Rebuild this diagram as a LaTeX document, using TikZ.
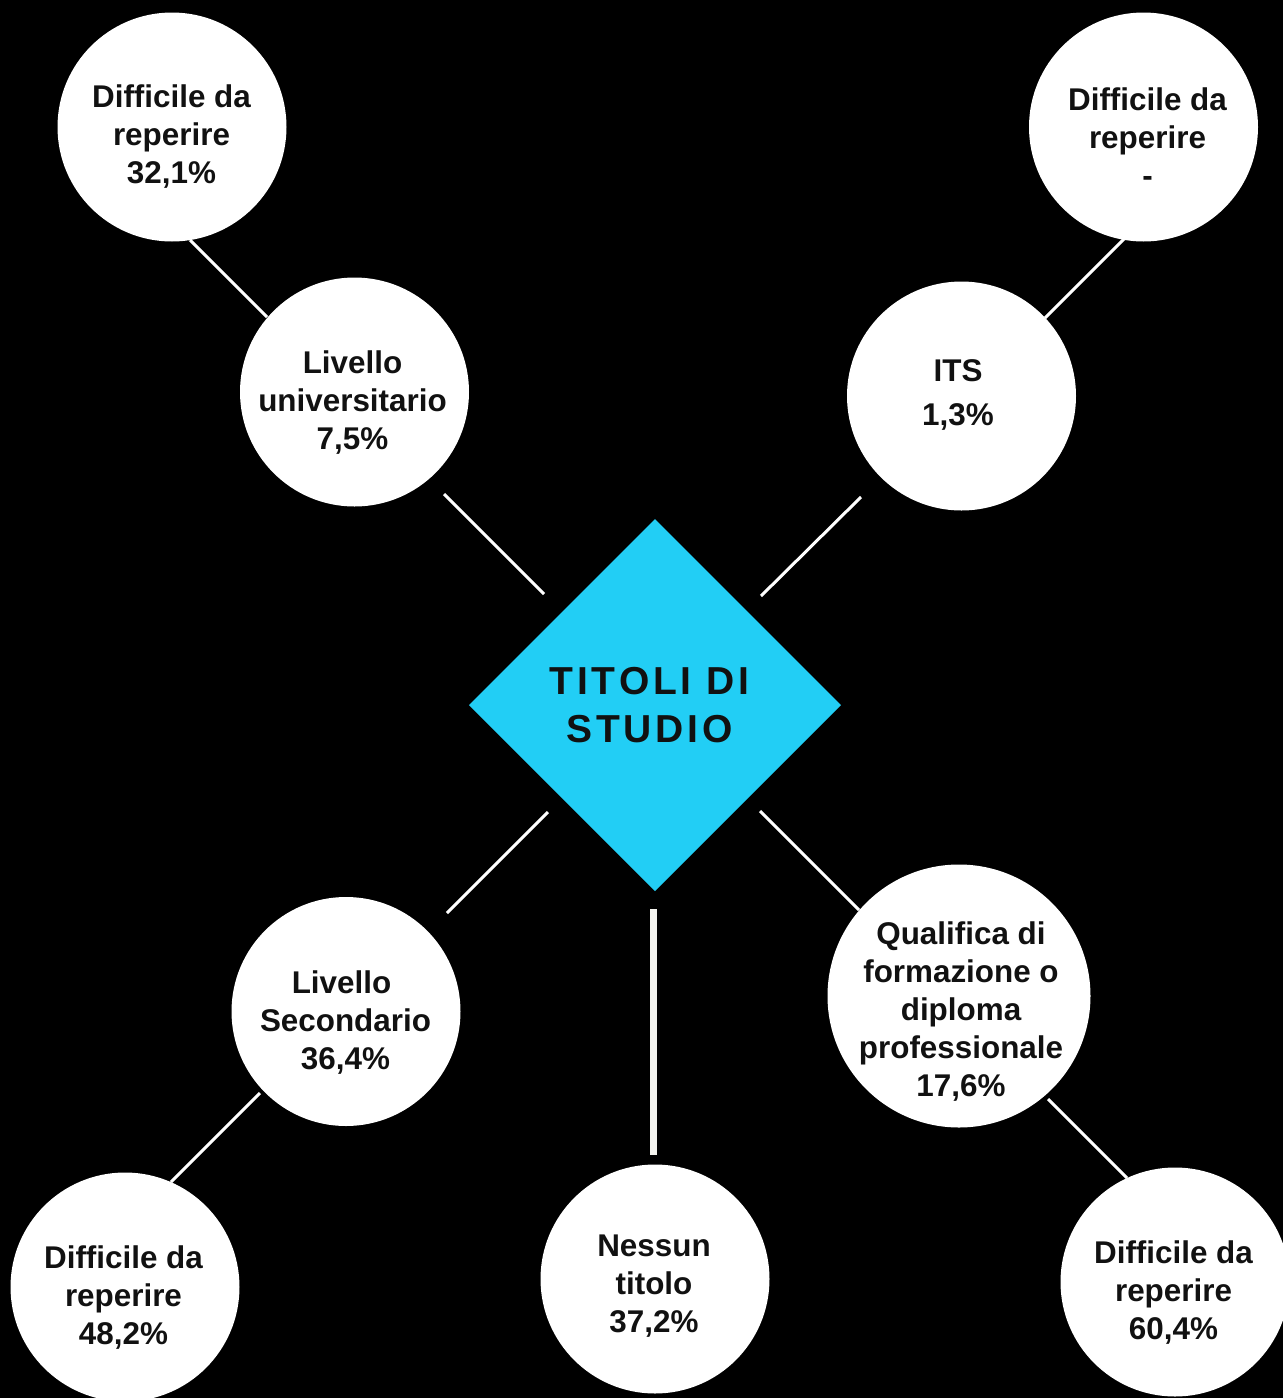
\documentclass[tikz,border=0pt]{standalone}
\usepackage{fontspec}
\setmainfont{Liberation Sans}
\newfontfamily\titlefont[LetterSpace=10]{Liberation Sans}
\usetikzlibrary{shapes.geometric}
\definecolor{cyanbox}{HTML}{22CEF5}
\definecolor{inktext}{HTML}{111111}
\definecolor{offwhite}{HTML}{F4F4EF}
\tikzset{
  bubble/.style={circle, fill=white, draw=none, inner sep=0pt, outer sep=0pt, minimum size=229pt},
  bigbubble/.style={bubble, minimum size=263pt},
  bubbletext/.style={align=center, inner sep=0pt, text=inktext,
    font=\fontsize{31.4}{38}\selectfont\bfseries},
  conn/.style={white, line width=3pt},
  thickconn/.style={offwhite, line width=7pt},
}
\begin{document}
\begin{tikzpicture}[x=1pt,y=-1pt]
\fill[black] (0,0) rectangle (1283,1398);
\useasboundingbox (0,0) rectangle (1283,1398);

% center diamond
\node[diamond, fill=cyanbox, inner sep=0pt, outer sep=0pt, minimum width=372pt, minimum height=372pt] (d) at (655,705) {};
\node[align=center, inner sep=0pt, text=inktext, font=\titlefont\fontsize{39}{48}\selectfont\bfseries] (dt) at (649.5,705) {TITOLI DI\\STUDIO};

% circles
\node[bubble] (c1) at (172,127) {};
\node[bubble] (c2) at (354.5,392) {};
\node[bubble] (c3) at (961.5,396) {};
\node[bubble] (c4) at (1143.5,127) {};
\node[bubble] (c5) at (346,1011.5) {};
\node[bubble] (c6) at (655,1279) {};
\node[bigbubble] (c7) at (959,996) {};
\node[bubble] (c8) at (125,1287) {};
\node[bubble] (c9) at (1175,1282) {};

% texts
\node[bubbletext] (t1) at (171.5,137) {Difficile da\\reperire\\32,1\%};
\node[bubbletext] (t2) at (352.5,402.5) {Livello\\universitario\\7,5\%};
\node[bubbletext, font=\fontsize{31.4}{44}\selectfont\bfseries] (t3) at (958,395) {ITS\\1,3\%};
\node[bubbletext] (t4) at (1147.5,137) {Difficile da\\reperire\\-};
\node[bubbletext] (t5) at (345.5,1023) {Livello\kern8pt\\Secondario\\36,4\%};
\node[bubbletext] (t6) at (654,1286) {Nessun\\titolo\\37,2\%};
\node[bubbletext] (t7) at (961,1012) {Qualifica di\\formazione o\\diploma\\professionale\\17,6\%};
\node[bubbletext] (t8) at (123.5,1298) {Difficile da\\reperire\\48,2\%};
\node[bubbletext] (t9) at (1173.5,1293) {Difficile da\\reperire\\60,4\%};

% connector end points
\coordinate (a1) at (190,240);   \coordinate (b1) at (267,317);
\coordinate (a2) at (444,494);   \coordinate (b2) at (544,594);
\coordinate (a3) at (861,497);   \coordinate (b3) at (761,596);
\coordinate (a4) at (1045,318);  \coordinate (b4) at (1124,239);
\coordinate (a5) at (548,812);   \coordinate (b5) at (447,913);
\coordinate (a6) at (653.5,909); \coordinate (b6) at (653.5,1155);
\coordinate (a7) at (760,811);   \coordinate (b7) at (859,910);
\coordinate (a8) at (260,1093);  \coordinate (b8) at (171,1182);
\coordinate (a9) at (1048,1099); \coordinate (b9) at (1127,1178);

\draw[conn] (a1) -- (b1);
\draw[conn] (a2) -- (b2);
\draw[conn] (a3) -- (b3);
\draw[conn] (a4) -- (b4);
\draw[conn] (a5) -- (b5);
\draw[thickconn] (a6) -- (b6);
\draw[conn] (a7) -- (b7);
\draw[conn] (a8) -- (b8);
\draw[conn] (a9) -- (b9);
\end{tikzpicture}
\end{document}
